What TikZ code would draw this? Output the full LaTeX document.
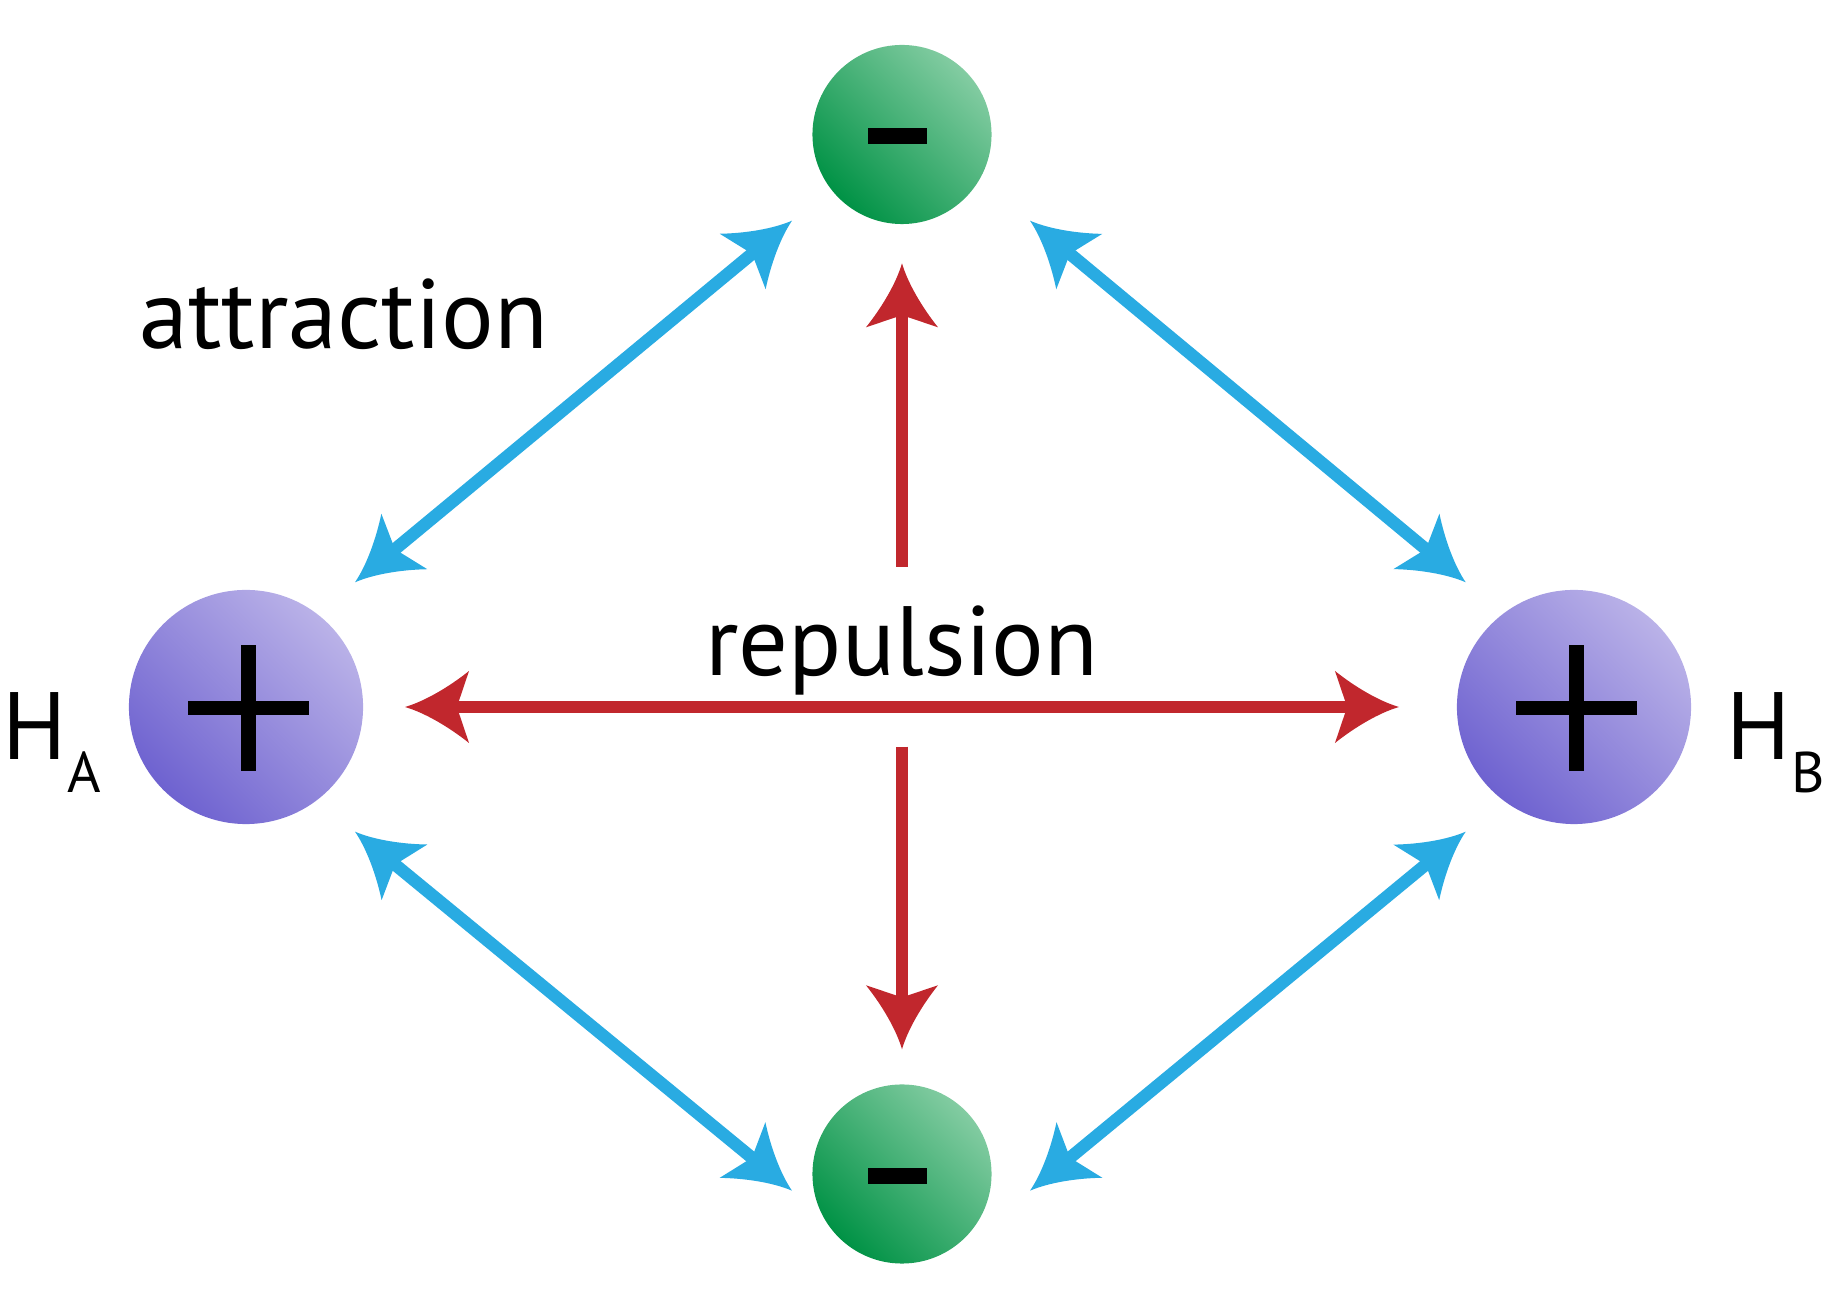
\documentclass[tikz,border=0pt]{standalone}
\usepackage{fontspec}
\setmainfont{PT Sans}
\usetikzlibrary{arrows.meta}
\definecolor{cBlue}{RGB}{41,171,226}
\definecolor{cRed}{RGB}{193,39,45}
\definecolor{gDark}{RGB}{0,146,69}
\definecolor{gLight}{RGB}{131,204,162}
\definecolor{pDark}{RGB}{110,98,208}
\definecolor{pLight}{RGB}{186,178,232}
\pgfdeclarearrow{
  name = Curvy,
  parameters = {\the\pgfarrowlength,\the\pgfarrowwidth},
  setup code = {
    \pgfarrowssettipend{0pt}
    \pgfarrowssetbackend{-\pgfarrowlength}
    \pgfarrowssetlineend{-0.6\pgfarrowlength}
    \pgfarrowssavethe\pgfarrowlength
    \pgfarrowssavethe\pgfarrowwidth
  },
  drawing code = {
    \pgfpathmoveto{\pgfpointorigin}
    \pgfpathcurveto{\pgfpoint{-0.31\pgfarrowlength}{0.08\pgfarrowwidth}}{\pgfpoint{-0.69\pgfarrowlength}{0.28\pgfarrowwidth}}{\pgfpoint{-\pgfarrowlength}{0.5\pgfarrowwidth}}
    \pgfpathlineto{\pgfpoint{-0.81\pgfarrowlength}{0pt}}
    \pgfpathlineto{\pgfpoint{-\pgfarrowlength}{-0.5\pgfarrowwidth}}
    \pgfpathcurveto{\pgfpoint{-0.69\pgfarrowlength}{-0.28\pgfarrowwidth}}{\pgfpoint{-0.31\pgfarrowlength}{-0.08\pgfarrowwidth}}{\pgfpointorigin}
    \pgfpathclose
    \pgfusepathqfill
  },
  defaults = {length=0.64cm, width=0.72cm}
}
\begin{document}
\begin{tikzpicture}[x=0.01cm, y=-0.01cm,
  electron/.style={circle, inner sep=0pt, minimum size=1.79cm, top color=gLight, bottom color=gDark, shading angle=-45},
  proton/.style={circle, inner sep=0pt, minimum size=2.34cm, top color=pLight, bottom color=pDark, shading angle=-45},
  attr/.style={draw=cBlue, line width=0.125cm, {Curvy[length=0.64cm,width=0.72cm]}-{Curvy[length=0.64cm,width=0.72cm]}},
  repl/.style={draw=cRed, line width=0.127cm},
  lbl/.style={inner sep=0pt, font=\fontsize{28}{33}\selectfont},
  hlbl/.style={inner sep=0pt, font=\fontsize{27.2}{32}\selectfont}
]
\useasboundingbox (0,0) rectangle (1826,1301);
% particles
\node[electron] (eT) at (902,134.5) {};
\node[electron] (eB) at (902,1174) {};
\node[proton] (HA) at (246,707) {};
\node[proton] (HB) at (1574,707) {};
% signs
\fill ([shift={(-34,-6.5)}]eT.center) rectangle ++(59,16);
\fill ([shift={(-34,-6)}]eB.center) rectangle ++(59,16);
\fill ([shift={(-58.3,-6.3)}]HA.center) rectangle ++(121.6,14.6);
\fill ([shift={(-5.3,-61.7)}]HA.center) rectangle ++(15.3,125.4);
\fill ([shift={(-58,-6.3)}]HB.center) rectangle ++(121.3,14.6);
\fill ([shift={(-5,-61.7)}]HB.center) rectangle ++(15.3,125.4);
% arrow end points
\coordinate (tlA) at (355,582.3);
\coordinate (tlE) at (792,220.7);
\coordinate (trE) at (1030,220.7);
\coordinate (trB) at (1465.7,582.3);
\coordinate (blA) at (355,831.7);
\coordinate (blE) at (792,1190.7);
\coordinate (brB) at (1465.7,831.7);
\coordinate (brE) at (1030,1190.7);
\coordinate (hL) at (405,707);
\coordinate (hR) at (1399,707);
\coordinate (uS) at (902,566.7);
\coordinate (uT) at (902,263.3);
\coordinate (dS) at (902,746.7);
\coordinate (dT) at (902,1049.3);
% attraction arrows
\draw[attr] (tlA) -- (tlE);
\draw[attr] (trE) -- (trB);
\draw[attr] (blA) -- (blE);
\draw[attr] (brB) -- (brE);
% repulsion arrows
\draw[repl, {Curvy[length=0.64cm,width=0.72cm]}-{Curvy[length=0.64cm,width=0.72cm]}] (hL) -- (hR);
\draw[repl, -{Curvy[length=0.64cm,width=0.72cm]}] (uS) -- (uT);
\draw[repl, -{Curvy[length=0.64cm,width=0.72cm]}] (dS) -- (dT);
% labels
\node[lbl, anchor=base] (tAttr) at (344,348.3) {attraction};
\node[lbl, anchor=base] (tRep) at (902,676) {repulsion};
\node[hlbl, anchor=base west] (lHA) at (2,760) {H\kern0.01cm\raisebox{-0.327cm}{\fontsize{16.3}{18}\selectfont A}};
\node[hlbl, anchor=base west] (lHB) at (1726,760) {H\kern0.01cm\raisebox{-0.327cm}{\fontsize{16.3}{18}\selectfont B}};
\end{tikzpicture}
\end{document}
